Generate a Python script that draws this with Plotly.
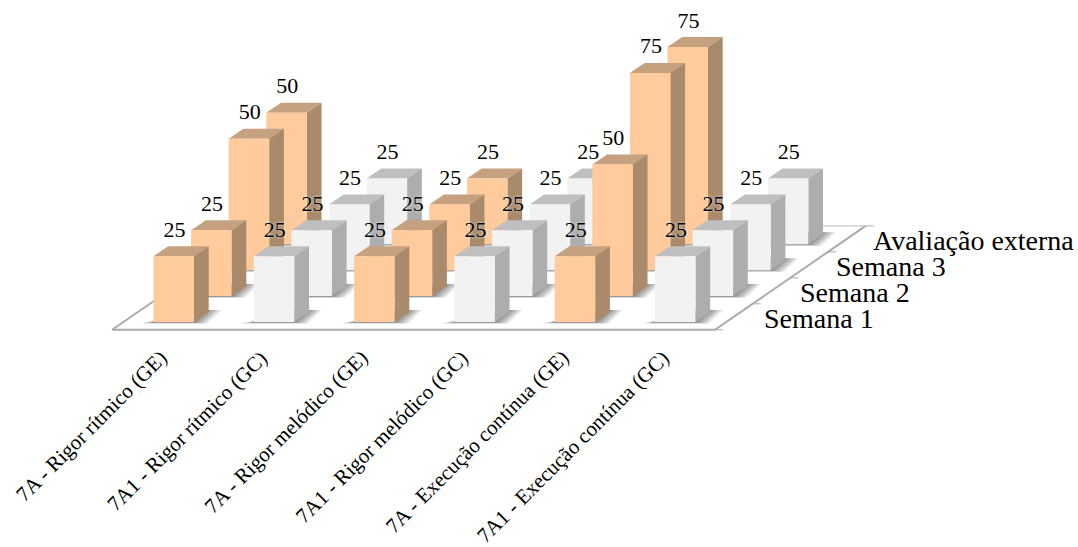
import plotly.graph_objects as go

# Chart data: one value list per week, one entry per category
categories = [
    "7A - Rigor rítmico (GE)",
    "7A1 - Rigor rítmico (GC)",
    "7A - Rigor melódico (GE)",
    "7A1 - Rigor melódico (GC)",
    "7A - Execução contínua (GE)",
    "7A1 - Execução contínua (GC)",
]
series_names = ["Semana 1", "Semana 2", "Semana 3", "Avaliação externa"]
semana_1 = [25, 25, 25, 25, 25, 25]
semana_2 = [25, 25, 25, 25, 50, 25]
semana_3 = [50, 25, 25, 25, 75, 25]
avaliacao_externa = [50, 25, 25, 25, 75, 25]
series_values = [semana_1, semana_2, semana_3, avaliacao_externa]

# Oblique projection of (category, series, value) onto the page
ORIGIN_X, ORIGIN_Y = 153.5, 322.0
COL_STEP = 100.3
ROW_DX, ROW_DY = 37.6, 25.9
VALUE_SCALE = 2.63
BAR_W = 40.5
DEPTH_DX, DEPTH_DY = 14.7, 10.0

FONT = "Liberation Serif"
PALETTES = [
    dict(front="#FFCB9C", side="#A98A6B", top="#C6A17F"),
    dict(front="#F2F2F2", side="#ADADAD", top="#BFBFBF"),
]


def project(col, row, value=0.0):
    return (
        ORIGIN_X + COL_STEP * col + ROW_DX * row,
        ORIGIN_Y - ROW_DY * row - VALUE_SCALE * value,
    )


def polygon(points, color):
    xs = [p[0] for p in points] + [points[0][0]]
    ys = [p[1] for p in points] + [points[0][1]]
    return go.Scatter(
        x=xs, y=ys, mode="lines", fill="toself", fillcolor=color,
        line=dict(color=color, width=0),
        hoverinfo="skip", showlegend=False,
    )


def floor_shape(points, color):
    path = "M " + " L ".join(f"{x:.2f},{y:.2f}" for x, y in points) + " Z"
    return dict(type="path", path=path, fillcolor=color, line=dict(width=0),
                layer="below", xref="x", yref="y")


fig = go.Figure()

# Outline of the chart floor
floor = [project(-0.3, -0.3), project(5.71, -0.3), project(5.71, 3.71), project(-0.3, 3.71)]
fig.add_trace(go.Scatter(
    x=[floor[3][0], floor[0][0], floor[1][0], floor[2][0]],
    y=[floor[3][1], floor[0][1], floor[1][1], floor[2][1]],
    mode="lines", line=dict(color="#ABABAB", width=2),
    hoverinfo="skip", showlegend=False,
))
fig.add_trace(go.Scatter(
    x=[floor[3][0], floor[2][0]], y=[floor[3][1], floor[2][1]],
    mode="lines", line=dict(color="#C8C8C8", width=1.2),
    hoverinfo="skip", showlegend=False,
))

# Tick marks along the depth edge of the floor
tick_x, tick_y = [], []
for k in range(5):
    px, py = project(5.71, -0.3 + k * 4.01 / 4)
    tick_x += [px, px + 8, None]
    tick_y += [py, py, None]
fig.add_trace(go.Scatter(
    x=tick_x, y=tick_y, mode="lines", line=dict(color="#ABABAB", width=1),
    hoverinfo="skip", showlegend=False,
))

shapes = []

# Bars, from the back row to the front row
for row in range(len(series_values) - 1, -1, -1):
    for col, value in enumerate(series_values[row]):
        colors = PALETTES[col % 2]
        bx, by = project(col, row)
        tx, ty = project(col, row, value)

        # Soft shadow on the floor, built from nested translucent shapes
        for spread in (13, 11, 9, 7, 5, 3, 1.5):
            shapes.append(floor_shape([
                (bx - spread, by + 0.4 + spread * 0.1),
                (bx + BAR_W + spread, by + 0.4 + spread * 0.1),
                (bx + BAR_W + DEPTH_DX + spread, by - DEPTH_DY - 2),
                (bx + BAR_W, by - DEPTH_DY - 2),
            ], "rgba(0,0,0,0.075)"))

        fig.add_trace(polygon([
            (tx, ty), (tx + DEPTH_DX, ty - DEPTH_DY),
            (tx + BAR_W + DEPTH_DX, ty - DEPTH_DY), (tx + BAR_W, ty),
        ], colors["top"]))
        fig.add_trace(polygon([
            (tx + BAR_W, ty), (tx + BAR_W + DEPTH_DX, ty - DEPTH_DY),
            (bx + BAR_W + DEPTH_DX, by - DEPTH_DY), (bx + BAR_W, by),
        ], colors["side"]))
        fig.add_trace(polygon([
            (tx, ty), (tx + BAR_W, ty), (bx + BAR_W, by), (bx, by),
        ], colors["front"]))

# Value labels sit above the tops of the bars
label_x, label_y, label_text = [], [], []
for row, values in enumerate(series_values):
    for col, value in enumerate(values):
        tx, ty = project(col, row, value)
        label_x.append(tx + 21)
        label_y.append(ty - 25)
        label_text.append(str(value))
fig.add_trace(go.Scatter(
    x=label_x, y=label_y, text=label_text, mode="text",
    textposition="middle center",
    textfont=dict(family=FONT, size=22, color="#000000",
                  shadow="0 0 3px rgba(255,255,255,0.9)"),
    hoverinfo="skip", showlegend=False,
))

annotations = []

# Category labels, rotated and hanging below the floor
for col, name in enumerate(categories):
    px, _ = project(col, 0)
    annotations.append(dict(
        x=px + 21, y=343, text=name, textangle=-45, showarrow=False,
        xanchor="right", yanchor="top", xref="x", yref="y",
        font=dict(family=FONT, size=21, color="#000000"),
    ))

# Series labels along the depth edge
for row, name in enumerate(series_names):
    annotations.append(dict(
        x=762 + 36.2 * row, y=318 - 25.7 * row, text=name, showarrow=False,
        xanchor="left", yanchor="middle", xref="x", yref="y",
        font=dict(family=FONT, size=28, color="#000000"),
    ))

fig.update_layout(
    width=1078, height=547, autosize=False,
    margin=dict(l=0, r=0, t=0, b=0),
    paper_bgcolor="#FFFFFF", plot_bgcolor="#FFFFFF",
    xaxis=dict(range=[0, 1078], visible=False, fixedrange=True),
    yaxis=dict(range=[547, 0], visible=False, fixedrange=True),
    annotations=annotations,
    shapes=shapes,
    showlegend=False,
)

fig.write_html("out.html", config=dict(displayModeBar=False))
